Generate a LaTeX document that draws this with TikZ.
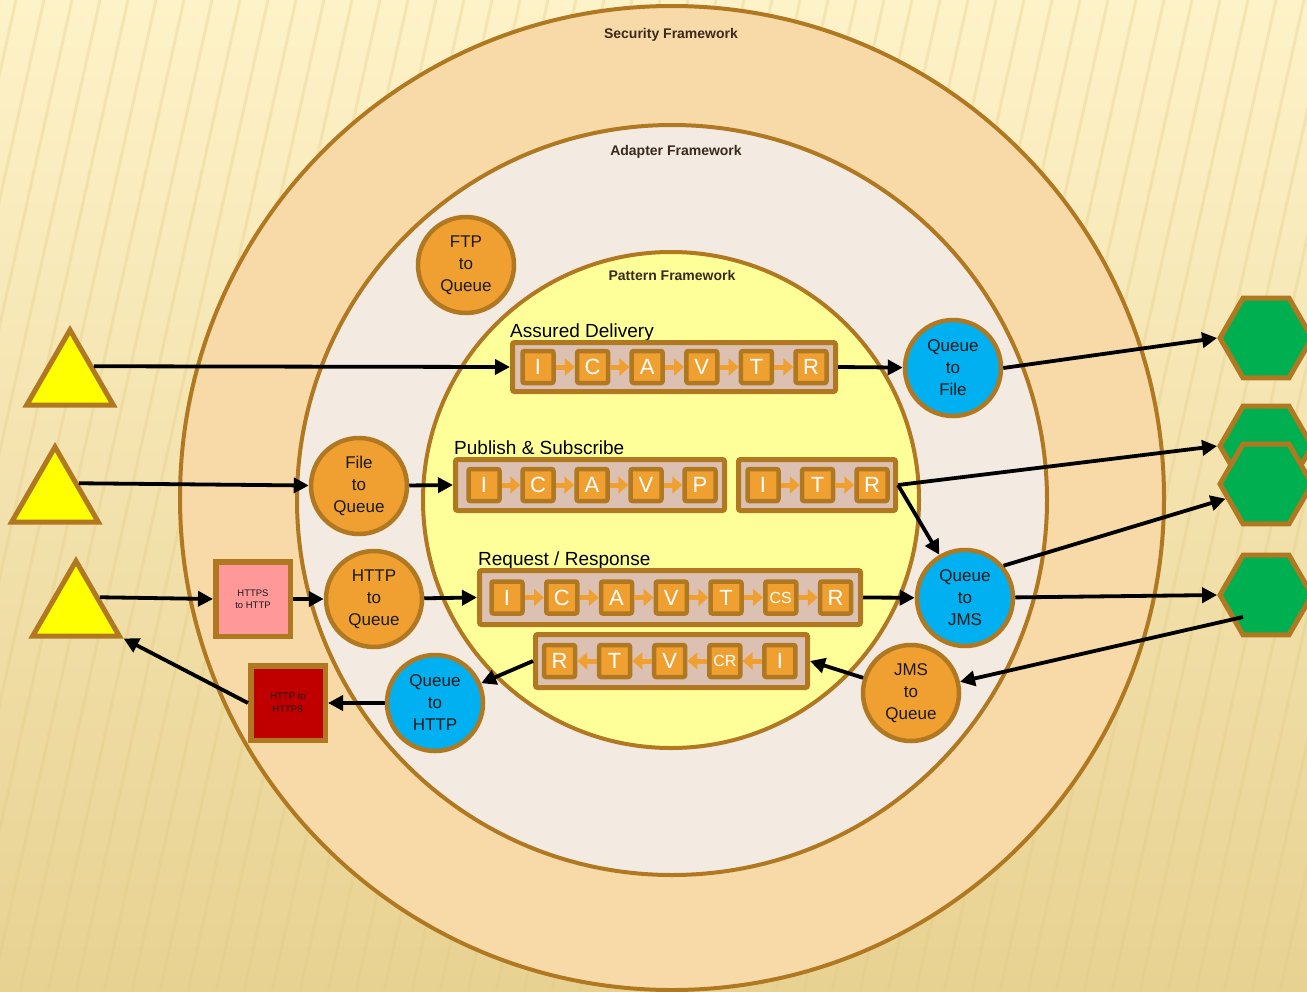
\documentclass[tikz,border=0pt]{standalone}
\usepackage{fontspec}
\setmainfont{Liberation Sans}
\usetikzlibrary{shapes.geometric,arrows.meta,calc}
\definecolor{bgtop}{HTML}{FEF2C8}
\definecolor{bgbot}{HTML}{E8D292}
\definecolor{stripe}{HTML}{E2C983}
\definecolor{brownline}{HTML}{B07820}
\definecolor{secfill}{HTML}{F8DAA8}
\definecolor{adpfill}{HTML}{F3EAE1}
\definecolor{patfill}{HTML}{FFFF99}
\definecolor{orangefill}{HTML}{F0A030}
\definecolor{bluefill}{HTML}{00B0F0}
\definecolor{greenfill}{HTML}{00B050}
\definecolor{yellowfill}{HTML}{FFFF00}
\definecolor{pinkfill}{HTML}{FF9999}
\definecolor{redfill}{HTML}{C00000}
\definecolor{pipefill}{HTML}{DCC1B3}
\definecolor{txtdark}{HTML}{1A1A1A}
\definecolor{lbldark}{HTML}{3B2A1C}
\begin{document}
\begin{tikzpicture}[x=1pt,y=-1pt,
  ring/.style={draw=brownline,line width=4pt},
  fwlabel/.style={anchor=base,inner sep=0pt,font=\fontsize{14}{16}\selectfont\bfseries,text=lbldark},
  adapter/.style={circle,draw=brownline,line width=4.5pt,minimum size=96pt,inner sep=0pt,align=center,text=txtdark,font=\fontsize{17}{22}\selectfont},
  inadapter/.style={adapter,fill=orangefill},
  outadapter/.style={adapter,fill=bluefill},
  pipe/.style={draw=brownline,fill=pipefill,line width=5pt,rounded corners=2pt,inner sep=0pt},
  stage/.style={draw=brownline,fill=orangefill,line width=4.5pt,rounded corners=2pt,minimum width=31pt,minimum height=32pt,inner sep=0pt,text=white,font=\fontsize{22}{22}\selectfont},
  smallstage/.style={stage,font=\fontsize{16}{16}\selectfont},
  flow/.style={draw=orangefill,line width=5pt,-{Triangle[length=10pt,width=17pt]}},
  pipetitle/.style={anchor=base west,inner sep=0pt,font=\fontsize{19}{21}\selectfont,text=black},
  conv/.style={draw=brownline,line width=5.5pt,minimum width=74.5pt,minimum height=74.5pt,inner sep=0pt,align=center,text=txtdark,font=\fontsize{9.5}{12.5}\selectfont},
  source/.style={regular polygon,regular polygon sides=3,draw=brownline,fill=yellowfill,line width=5pt,minimum size=100pt,inner sep=0pt},
  sink/.style={regular polygon,regular polygon sides=6,draw=brownline,fill=greenfill,line width=5pt,minimum size=92pt,inner sep=0pt},
  conn/.style={draw=black,line width=3.8pt,-{Triangle[length=15pt,width=15pt]}},
]
\useasboundingbox (0,0) rectangle (1307,991);
\clip (0,0) rectangle (1307,991);
% background
\shade[top color=bgtop,bottom color=bgbot] (0,0) rectangle (1307,991);
\foreach \sx in {-400,-372,...,1400}
  \draw[stripe,line width=3pt,opacity=0.3] (\sx,991) -- (\sx+220,0);
% framework rings
\draw[ring,fill=secfill] (672,498) circle[radius=492pt];
\draw[ring,fill=adpfill] (672,500) circle[radius=375pt];
\draw[ring,fill=patfill] (671,500) circle[radius=248pt];
\node[fwlabel] (secl) at (671,38) {Security Framework};
\node[fwlabel] (adpl) at (676,155.5) {Adapter Framework};
\node[fwlabel] (patl) at (672,280.5) {Pattern Framework};
% adapters
\node[inadapter] (ftpq) at (466,265) {FTP\\to\\Queue};
\node[inadapter] (fileq) at (359,486) {File\\to\\Queue};
\node[inadapter] (httpq) at (374,599) {HTTP\\to\\Queue};
\node[inadapter] (jmsq) at (911,693) {JMS\\to\\Queue};
\node[outadapter] (qfile) at (953,368) {Queue\\to\\File};
\node[outadapter] (qjms) at (965,598) {Queue\\to\\JMS};
\node[outadapter] (qhttp) at (435,703) {Queue\\to\\HTTP};
% converters
\node[conv,fill=pinkfill] (hs) at (253,599) {HTTPS\\to HTTP};
\node[conv,fill=redfill] (hh) at (288,703) {HTTP to\\HTTPS};
% Assured Delivery
\node[pipetitle] (adt) at (510,337) {Assured Delivery};
\node[pipe,minimum width=323pt,minimum height=49pt] (ad) at (674,367) {};
\foreach \i/\t [count=\k] in {0/I,1/C,2/A,3/V,4/T,5/R}
  \node[stage] (ad\k) at (538+54.6*\i,367) {\t};
\foreach \a/\b in {1/2,2/3,3/4,4/5,5/6}
  \draw[flow] (ad\a.east) -- (ad\b.west);
% Publish & Subscribe
\node[pipetitle] (pst) at (454,454) {Publish \& Subscribe};
\node[pipe,minimum width=269pt,minimum height=51pt] (ps1) at (590,485) {};
\node[pipe,minimum width=157pt,minimum height=51pt] (ps2) at (817,485) {};
\foreach \i/\t [count=\k] in {0/I,1/C,2/A,3/V,4/P}
  \node[stage] (pa\k) at (484+54*\i,485) {\t};
\foreach \a/\b in {1/2,2/3,3/4,4/5}
  \draw[flow] (pa\a.east) -- (pa\b.west);
\foreach \i/\t [count=\k] in {0/I,1/T,2/R}
  \node[stage] (pb\k) at (763+54.5*\i,485) {\t};
\foreach \a/\b in {1/2,2/3}
  \draw[flow] (pb\a.east) -- (pb\b.west);
% Request / Response
\node[pipetitle] (rrt) at (478,565) {Request / Response};
\node[pipe,minimum width=381pt,minimum height=54pt] (rr) at (670,597.5) {};
\foreach \i/\t [count=\k] in {0/I,1/C,2/A,3/V,4/T,6/R}
  \node[stage] (rq\k) at (507+54.75*\i,597.5) {\t};
\node[smallstage] (rqcs) at (507+54.75*5,597.5) {CS};
\draw[flow] (rq1.east) -- (rq2.west);
\draw[flow] (rq2.east) -- (rq3.west);
\draw[flow] (rq3.east) -- (rq4.west);
\draw[flow] (rq4.east) -- (rq5.west);
\draw[flow] (rq5.east) -- (rqcs.west);
\draw[flow] (rqcs.east) -- (rq6.west);
\node[pipe,minimum width=272pt,minimum height=53pt] (resp) at (671.5,661) {};
\foreach \i/\t [count=\k] in {0/R,1/T,2/V,4/I}
  \node[stage] (rs\k) at (559.5+55.1*\i,661) {\t};
\node[smallstage] (rscr) at (559.5+55.1*3,661) {CR};
\draw[flow] (rs4.west) -- (rscr.east);
\draw[flow] (rscr.west) -- (rs3.east);
\draw[flow] (rs3.west) -- (rs2.east);
\draw[flow] (rs2.west) -- (rs1.east);
% sources and sinks
\node[source] (t1) at (70,380) {};
\node[source] (t2) at (55,497) {};
\node[source] (t3) at (76,611) {};
\node[sink] (h1) at (1266,338) {};
\node[sink] (h2) at (1266,446) {};
\node[sink] (h3) at (1266,484) {};
\node[sink] (h4) at (1266,595) {};
\coordinate (h4in) at (1243,617);
% connectors
\draw[conn] (t1.side 3) -- (ad.west);
\draw[conn] (ad.east) -- (qfile);
\draw[conn] (qfile.east) -- (h1.west);
\draw[conn] (t2.side 3) -- (fileq);
\draw[conn] (fileq) -- (ps1.west);
\draw[conn] (ps2.east) -- (h2.west);
\draw[conn] (ps2.east) -- (qjms);
\draw[conn] (qjms.40) -- (h3.200);
\draw[conn] (t3.side 3) -- (hs.west);
\draw[conn] (hs.east) -- (httpq);
\draw[conn] (httpq) -- (rr.west);
\draw[conn] (rr.east) -- (qjms);
\draw[conn] (qjms) -- (h4.west);
\draw[conn] (h4in) -- (jmsq);
\draw[conn] (jmsq) -- (resp.east);
\draw[conn] (resp.west) -- (qhttp);
\draw[conn] (qhttp) -- (hh.east);
\draw[conn] (hh.west) -- (t3.corner 3);
\end{tikzpicture}
\end{document}
